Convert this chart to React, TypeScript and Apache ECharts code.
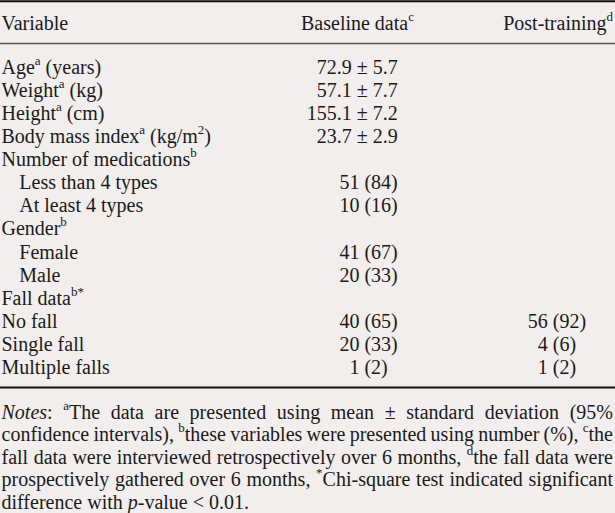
import React, { useEffect, useRef } from "react";
import * as echarts from "echarts";

const W = 615;
const H = 513;
const FAMILY = "Liberation Serif";
const FS = 20;
const SUP = 13;
const INK = "#1a1a1a";
const BG = "#f1eeed";

const headers = ["Variable", "Baseline data^{c}", "Post-training^{d}"];
const variables = [
  "Age^{a} (years)",
  "Weight^{a} (kg)",
  "Height^{a} (cm)",
  "Body mass index^{a} (kg/m^{2})",
  "Number of medications^{b}",
  "Less than 4 types",
  "At least 4 types",
  "Gender^{b}",
  "Female",
  "Male",
  "Fall data^{b*}",
  "No fall",
  "Single fall",
  "Multiple falls",
];
const indentLevels = [0, 0, 0, 0, 0, 1, 1, 0, 1, 1, 0, 0, 0, 0];
const baselineData = [
  "72.9 ± 5.7",
  "57.1 ± 7.7",
  "155.1 ± 7.2",
  "23.7 ± 2.9",
  "",
  "51 (84)",
  "10 (16)",
  "",
  "41 (67)",
  "20 (33)",
  "",
  "40 (65)",
  "20 (33)",
  "1 (2)",
];
const baselinePad = [0, 0, 0, 0, 0, 0, 0, 0, 0, 0, 0, 0, 0, 1];
const postTrainingData = ["", "", "", "", "", "", "", "", "", "", "", "56 (92)", "4 (6)", "1 (2)"];
const notesLines = [
  "*{Notes}: ^{a}The data are presented using mean ± standard deviation (95%",
  "confidence intervals), ^{b}these variables were presented using number (%), ^{c}the",
  "fall data were interviewed retrospectively over 6 months, ^{d}the fall data were",
  "prospectively gathered over 6 months, ^{*}Chi-square test indicated significant",
  "difference with *{p}-value < 0.01.",
];

type Seg = { text: string; kind: "n" | "s" | "i" };

function parse(str: string): Seg[] {
  const parts = str.split(/(\^\{[^}]*\}|\*\{[^}]*\})/);
  const out: Seg[] = [];
  for (const p of parts) {
    if (!p) continue;
    if (p.startsWith("^{")) out.push({ text: p.slice(2, -1), kind: "s" });
    else if (p.startsWith("*{")) out.push({ text: p.slice(2, -1), kind: "i" });
    else out.push({ text: p, kind: "n" });
  }
  return out;
}

function sizeOf(kind: string) {
  return kind === "s" ? SUP : FS;
}

function canvasFont(kind: string) {
  return `${kind === "i" ? "italic " : ""}${sizeOf(kind)}px "${FAMILY}", serif`;
}

let ctx: CanvasRenderingContext2D | null = null;
function getCtx() {
  if (!ctx) ctx = document.createElement("canvas").getContext("2d") as CanvasRenderingContext2D;
  return ctx;
}

function segWidth(s: Seg) {
  const c = getCtx();
  c.font = canvasFont(s.kind);
  return c.measureText(s.text).width;
}

function segsWidth(segs: Seg[]) {
  return segs.reduce((a, s) => a + segWidth(s), 0);
}

function emit(segs: Seg[], x: number, y: number, els: any[]) {
  let cx = x;
  for (const s of segs) {
    const w = segWidth(s);
    const style: any = {
      text: s.text,
      fontFamily: FAMILY,
      fontSize: sizeOf(s.kind),
      fill: INK,
      align: "left",
      verticalAlign: "middle",
    };
    if (s.kind === "i") style.fontStyle = "italic";
    els.push({
      type: "text",
      x: cx,
      y: s.kind === "s" ? y - 6.5 : y,
      style,
    });
    cx += w;
  }
  return cx;
}

function emitAligned(str: string, x: number, y: number, align: "left" | "right" | "center", els: any[]) {
  const segs = parse(str);
  const w = segsWidth(segs);
  const sx = align === "left" ? x : align === "right" ? x - w : x - w / 2;
  emit(segs, sx, y, els);
}

function emitJustified(str: string, L: number, R: number, y: number, justify: boolean, els: any[]) {
  const words = str.split(" ").map(parse);
  const widths = words.map(segsWidth);
  const total = widths.reduce((a, b) => a + b, 0);
  const space = segWidth({ text: " ", kind: "n" });
  const gap = justify && words.length > 1 ? (R - L - total) / (words.length - 1) : space;
  let cx = L;
  words.forEach((w, i) => {
    emit(w, cx, y, els);
    cx += widths[i] + gap;
  });
}

function buildElements() {
  const els: any[] = [];
  const left = 1.5;
  const right = 613;
  els.push({ type: "rect", shape: { x: 0, y: 0, width: W, height: H }, style: { fill: BG } });
  // rules
  els.push({ type: "rect", shape: { x: 0, y: 0.3, width: W, height: 2 }, style: { fill: "#111" } });
  els.push({ type: "rect", shape: { x: 0, y: 42.8, width: W, height: 1.5 }, style: { fill: "#555" } });
  els.push({ type: "rect", shape: { x: 0, y: 386.6, width: W, height: 2 }, style: { fill: "#111" } });
  // header
  const hy = 23;
  emitAligned(headers[0], left, hy, "left", els);
  emitAligned(headers[1], 301, hy, "left", els);
  emitAligned(headers[2], right, hy, "right", els);
  // rows
  const y0 = 66.7;
  const step = 23.1;
  const digitW = segWidth({ text: "0", kind: "n" });
  variables.forEach((v, i) => {
    const y = y0 + i * step;
    emitAligned(v, left + indentLevels[i] * 17.8, y, "left", els);
    if (baselineData[i]) emitAligned(baselineData[i], 397.7 - baselinePad[i] * digitW, y, "right", els);
    if (postTrainingData[i]) emitAligned(postTrainingData[i], 557, y, "center", els);
  });
  // notes
  const ny0 = 411.5;
  notesLines.forEach((line, i) => {
    emitJustified(line, left, right, ny0 + i * 22.6, i < notesLines.length - 1, els);
  });
  return els;
}

export default function App() {
  const ref = useRef<HTMLDivElement>(null);
  useEffect(() => {
    const chart = echarts.init(ref.current!, undefined, { renderer: "svg" });
    let alive = true;
    const draw = () => {
      if (!alive) return;
      chart.setOption(
        { animation: false, graphic: { elements: buildElements() } },
        { notMerge: true }
      );
    };
    draw();
    const fonts: any = (document as any).fonts;
    if (fonts && fonts.load) {
      Promise.all([
        fonts.load(`${FS}px "${FAMILY}"`),
        fonts.load(`italic ${FS}px "${FAMILY}"`),
        fonts.load(`${SUP}px "${FAMILY}"`),
      ])
        .then(() => fonts.ready)
        .then(draw)
        .catch(() => {});
    }
    return () => {
      alive = false;
      chart.dispose();
    };
  }, []);
  return (
    <div
      ref={ref}
      style={{ position: "absolute", left: 0, top: 0, width: W, height: H, background: BG }}
    />
  );
}
